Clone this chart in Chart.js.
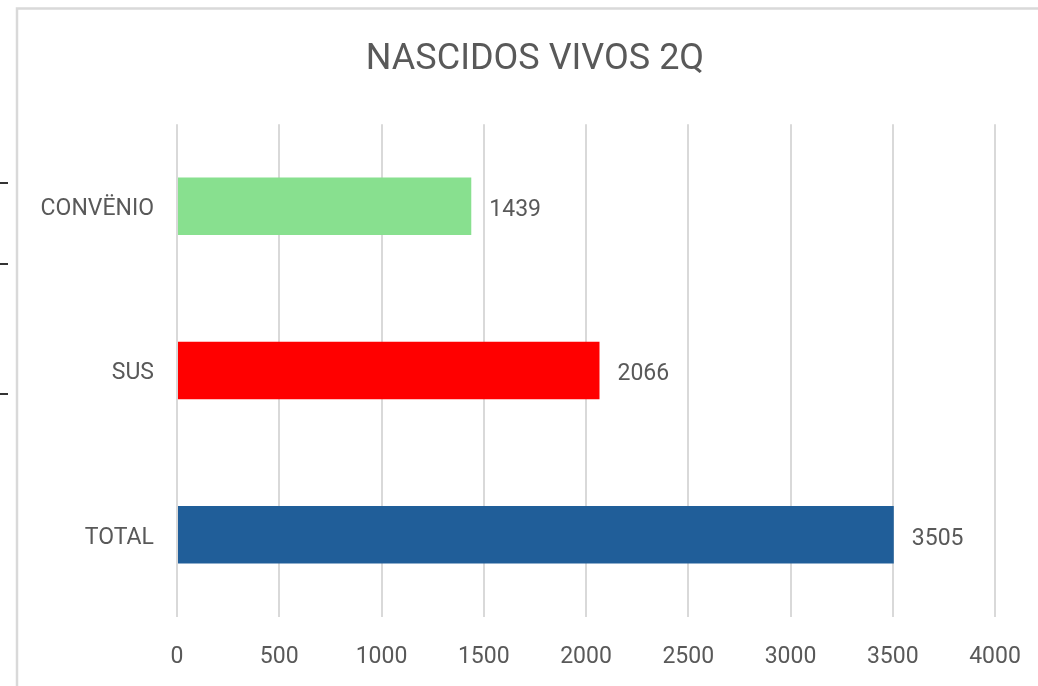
<!DOCTYPE html>
<html>
<head>
<meta charset="utf-8">
<title>Nascidos vivos 2Q</title>
<script src="https://cdn.jsdelivr.net/npm/chart.js@4/dist/chart.umd.min.js"></script>
<style>
    body { margin: 0; background: #fff; }
</style>
</head>
<body>
<canvas id="grafica" width="1038" height="686"></canvas>
<script>
// datos del grafico
let categorias = ["CONVËNIO", "SUS", "TOTAL"];
let nascidos = [1439, 2066, 3505];
let colores = ["#88E08F", "#FF0000", "#205E99"];
let ejeMin = 0;
let ejeMax = 4000;
let paso = 500;

let gris = "#595959";
let fuente = "Roboto, 'Liberation Sans', sans-serif";

// marco de la imagen original (bordes y marcas a la izquierda)
const marco = {
    id: "marco",
    beforeDraw(chart) {
        let ctx = chart.ctx;
        ctx.save();
        ctx.fillStyle = "#fff";
        ctx.fillRect(0, 0, chart.width, chart.height);
        ctx.strokeStyle = "#d9d9d9";
        ctx.lineWidth = 2.5;
        ctx.beginPath();
        ctx.moveTo(17, chart.height);
        ctx.lineTo(17, 8.5);
        ctx.lineTo(chart.width, 8.5);
        ctx.stroke();
        ctx.strokeStyle = "#333";
        ctx.lineWidth = 2;
        for (let y of [183, 264, 394]) {
            ctx.beginPath();
            ctx.moveTo(0, y);
            ctx.lineTo(8, y);
            ctx.stroke();
        }
        ctx.restore();
    }
};

// el titulo va centrado un poco a la derecha del centro del lienzo
const centrarTitulo = {
    id: "centrarTitulo",
    afterLayout(chart) {
        if (chart.titleBlock) {
            chart.titleBlock.left = 75;
            chart.titleBlock.right = 995;
        }
    }
};

// valores al final de cada barra
const etiquetas = {
    id: "etiquetas",
    afterDatasetsDraw(chart) {
        let ctx = chart.ctx;
        let meta = chart.getDatasetMeta(0);
        ctx.save();
        ctx.font = "23px " + fuente;
        ctx.fillStyle = gris;
        ctx.textAlign = "left";
        ctx.textBaseline = "middle";
        meta.data.forEach((barra, i) => {
            ctx.fillText(nascidos[i], barra.x + 18, barra.y + 4);
        });
        ctx.restore();
    }
};

let miCanvas = document.getElementById("grafica").getContext("2d");

let chartConfig = {
    type: "bar",
    data: {
        labels: categorias,
        datasets: [{
            label: "Nascidos vivos",
            data: nascidos,
            backgroundColor: colores,
            borderWidth: 0,
            barPercentage: 0.35,
            categoryPercentage: 1
        }]
    },
    options: {
        indexAxis: "y",
        responsive: false,
        animation: false,
        layout: {
            padding: { left: 0, right: 43, top: 0, bottom: 0 }
        },
        plugins: {
            legend: { display: false },
            tooltip: { enabled: false },
            title: {
                display: true,
                text: "NASCIDOS VIVOS 2Q",
                color: gris,
                font: { family: fuente, size: 36, weight: "normal" },
                padding: { top: 38, bottom: 43 }
            }
        },
        scales: {
            x: {
                min: ejeMin,
                max: ejeMax,
                ticks: {
                    stepSize: paso,
                    color: gris,
                    font: { family: fuente, size: 23 },
                    padding: 0,
                    callback: (valor) => String(valor)
                },
                grid: {
                    color: "#d9d9d9",
                    lineWidth: 2,
                    drawTicks: true,
                    tickLength: 26,
                    tickColor: "rgba(0,0,0,0)"
                },
                border: { display: false },
                afterFit(scale) {
                    scale.height = 69;
                }
            },
            y: {
                ticks: {
                    color: gris,
                    font: { family: fuente, size: 23 },
                    padding: 23,
                    labelOffset: 3
                },
                grid: { display: false, drawTicks: false },
                border: { display: false },
                afterFit(scale) {
                    scale.width = 177;
                }
            }
        }
    },
    plugins: [marco, centrarTitulo, etiquetas]
};

let chart = new Chart(miCanvas, chartConfig);
</script>
</body>
</html>
